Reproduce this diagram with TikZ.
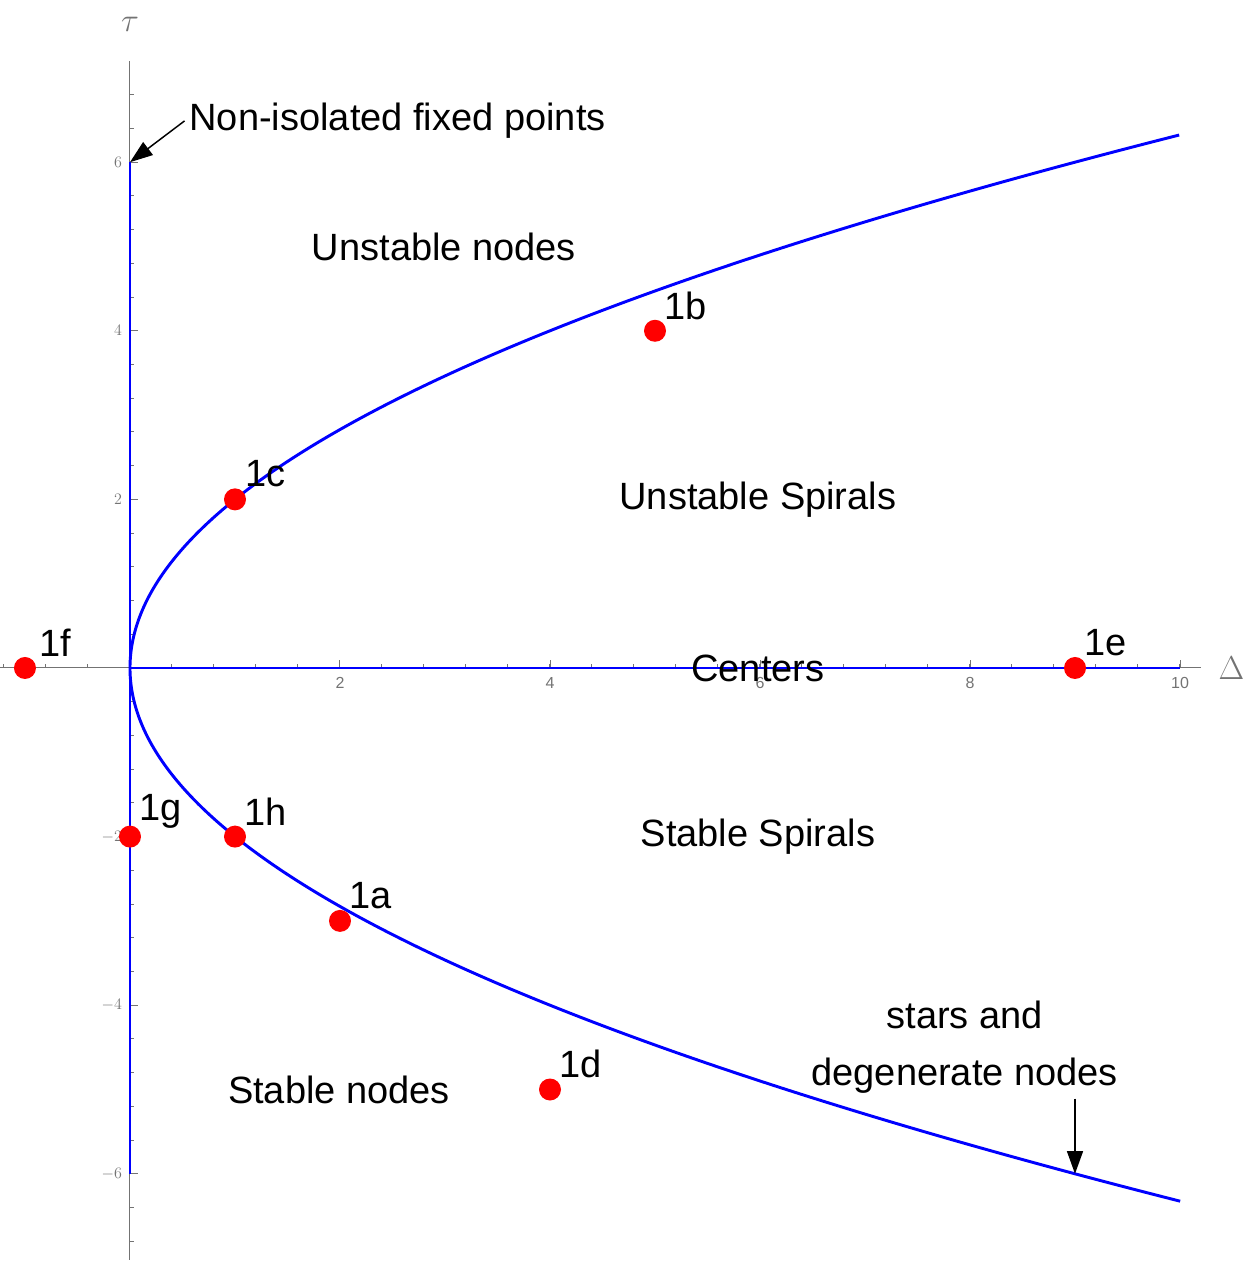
\documentclass[tikz,border=0pt]{standalone}
\usepackage{fontspec}
\setmainfont{Liberation Sans}
\usetikzlibrary{arrows.meta}
\definecolor{axisgray}{rgb}{0.45,0.45,0.45}
\tikzset{
  every picture/.style={line width=0.75pt},
  fixpt/.style={circle,fill=red,inner sep=0pt,minimum size=16.5pt},
  ptlabel/.style={font=\fontsize{28.5}{30}\selectfont},
  region/.style={font=\fontsize{28.5}{43}\selectfont,align=center},
  ticklab/.style={font=\fontsize{12}{14}\selectfont,text=axisgray},
  curve/.style={blue,line width=2.2pt},
  bigtip/.style={-{Triangle[length=17pt,width=12pt]},line width=1.1pt},
}
\begin{document}
\begin{tikzpicture}[x=78.75pt,y=63.225pt]
\useasboundingbox (-1.238,-7.070) rectangle (10.667,7.924);
% axes
\draw[axisgray] (-1.238,0) -- (10.2,0);
\draw[axisgray] (0,-7.02) -- (0,7.2);
\foreach \t in {-1.2,-0.8,...,10.1} \draw[axisgray] (\t,0) -- (\t,0.05);
\foreach \t in {2,4,...,10} {
  \draw[axisgray] (\t,0) -- (\t,0.1);
  \node[ticklab,below] at (\t,-0.05) {\t};
}
\foreach \t in {-6.8,-6.4,...,7.1} \draw[axisgray] (0,\t) -- (0.04,\t);
\foreach \t in {-6,-4,-2,2,4,6} {
  \draw[axisgray] (0,\t) -- (0.08,\t);
  \node[ticklab,left] at (-0.03,\t) {$\t$};
}
\node[text=axisgray,font=\fontsize{30}{32}\selectfont] (tau) at (0,7.63) {$\tau$};
\node[text=axisgray,font=\fontsize{30}{32}\selectfont] (delta) at (10.49,0) {$\Delta$};
% curves
\draw[curve,domain=-6.325:6.325,samples=200,smooth] plot ({\x*\x/4},{\x});
\draw[curve] (0,-6) -- (0,6);
\draw[curve] (0,0) -- (10,0);
% fixed points
\foreach \n/\d/\t in {a/2/-3,b/5/4,c/1/2,d/4/-5,e/9/0,f/-1/0,g/0/-2,h/1/-2} {
  \node[fixpt] (p\n) at (\d,\t) {};
  \node[ptlabel] (l\n) at (\d+0.29,\t+0.3) {1\n};
}
% regions
\node[region] (un) at (2.99,4.99) {Unstable nodes};
\node[region] (us) at (5.98,2.0) {Unstable Spirals};
\node[region] (ce) at (5.98,0) {Centers};
\node[region] (ss) at (5.98,-2.0) {Stable Spirals};
\node[region] (sn) at (1.99,-5.0) {Stable nodes};
\node[region] (st) at (7.95,-4.5) {stars and\\degenerate nodes};
\node[region,anchor=west] (ni) at (0.52,6.49) {Non-isolated fixed points};
% arrows
\coordinate (top) at (0,6);
\coordinate (bot) at (9,-6);
\draw[bigtip] (ni.west) -- (top);
\draw[bigtip] (st.south -| bot) -- (bot);
\end{tikzpicture}
\end{document}
